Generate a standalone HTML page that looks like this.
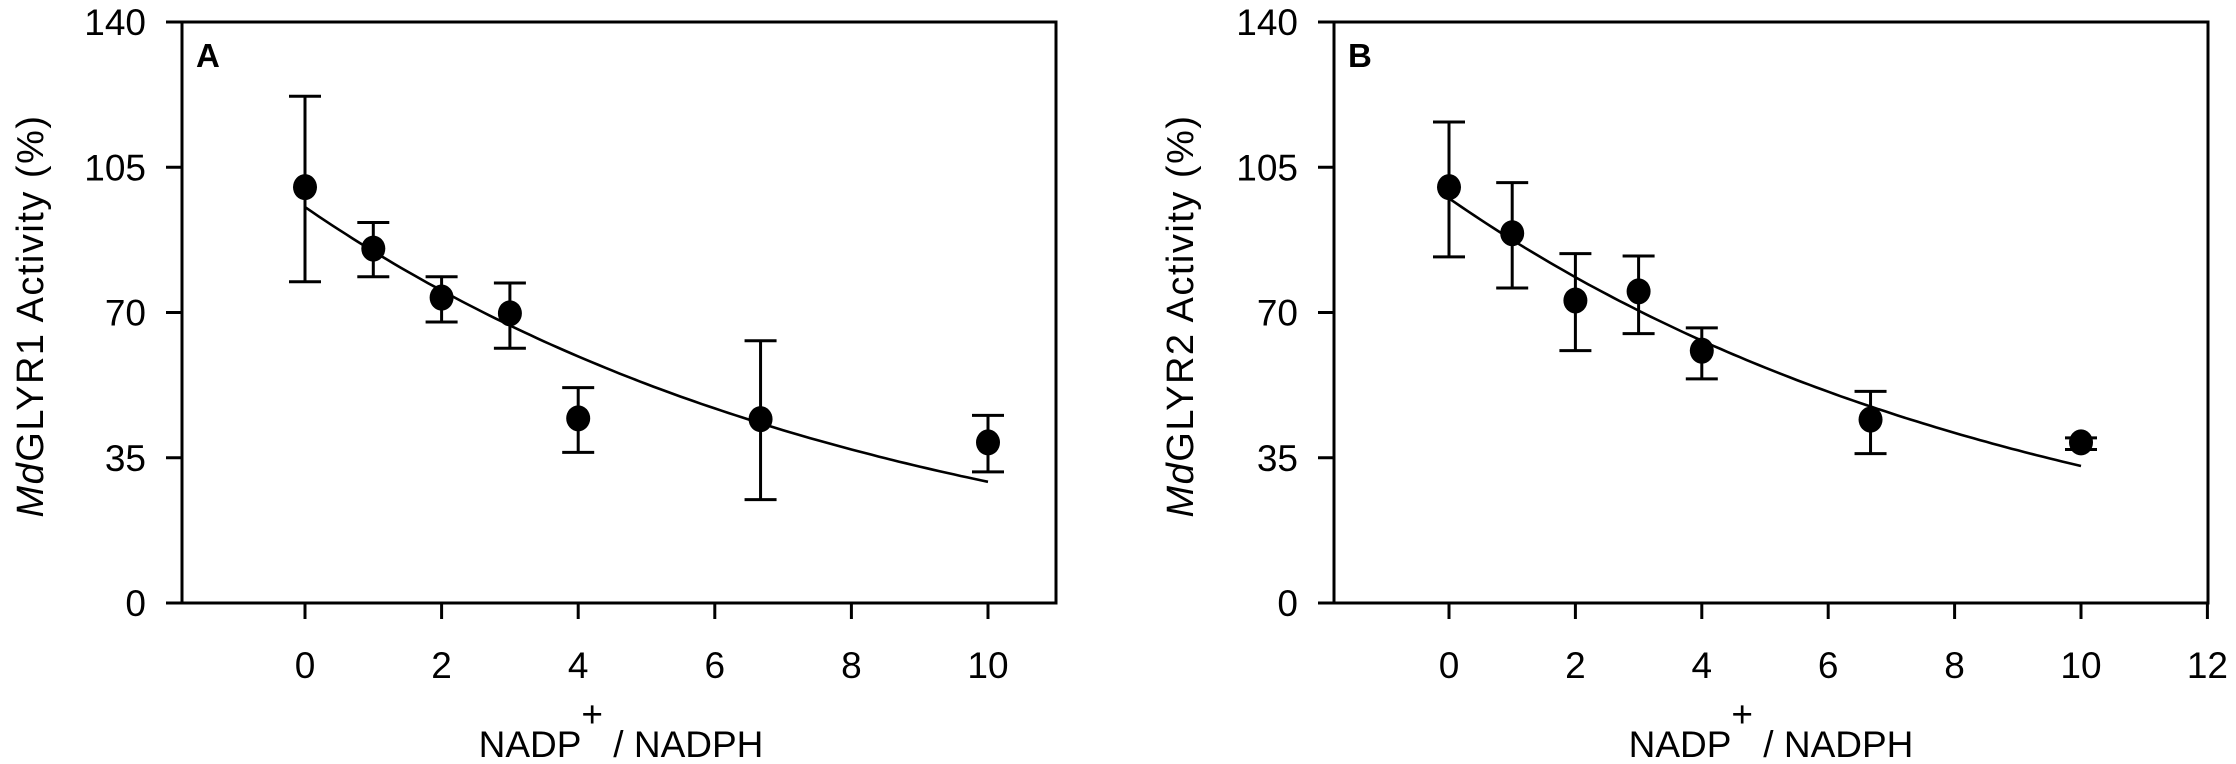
<!DOCTYPE html>
<html><head><meta charset="utf-8"><style>
html,body{margin:0;padding:0;background:#fff;}
svg{display:block;}
text{font-family:"Liberation Sans",Arial,sans-serif;fill:#000;}
</style></head>
<body>
<svg id="chart" width="2236" height="764" viewBox="0 0 2236 764"></svg>
<script>
const xCats = [0, 1, 2, 3, 4, 6.67, 10];
const meanA = [100.2, 85.4, 73.6, 69.8, 44.5, 44.3, 38.7];
const upperA = [122.1, 91.7, 78.6, 77.1, 51.9, 63.2, 45.2];
const lowerA = [77.4, 78.6, 67.7, 61.4, 36.3, 24.9, 31.6];
const meanB = [100.2, 89.1, 72.9, 75.1, 60.8, 44.2, 38.7];
const upperB = [115.9, 101.3, 84.2, 83.6, 66.3, 51.0, 39.8];
const lowerB = [83.4, 75.9, 60.8, 64.9, 54.0, 36.0, 37.0];
const fitA = [95.4, 0.1184];
const fitB = [97.5, 0.1083];
const yTicks = [0, 35, 70, 105, 140];
const xTicksA = [0, 2, 4, 6, 8, 10];
const xTicksB = [0, 2, 4, 6, 8, 10, 12];

const NS = "http://www.w3.org/2000/svg";
const svg = document.getElementById('chart');
function mk(tag, attrs, parent) {
  const e = document.createElementNS(NS, tag);
  for (const k in attrs) e.setAttribute(k, attrs[k]);
  (parent || svg).appendChild(e);
  return e;
}

function panel(cfg) {
  const g = mk('g', {});
  
  
  const xs = v => cfg.x0 + v * cfg.xu;
  const ys = v => cfg.yBottom - (v / 140) * (cfg.yBottom - cfg.yTop);
  const frame = mk('rect', {x: cfg.left, y: cfg.yTop, width: cfg.right - cfg.left, height: cfg.yBottom - cfg.yTop, fill: 'none', stroke: '#000', 'stroke-width': 3}, g);
  
  
  yTicks.forEach(t => {
    const y = ys(t);
    const l = mk('line', {x1: cfg.left - 16, x2: cfg.left, y1: y, y2: y, stroke: '#000', 'stroke-width': 3}, g);
    
    
    const tx = mk('text', {x: cfg.left - 36, y: y + 13, 'font-size': 37, 'text-anchor': 'end'}, g);
    tx.textContent = t;
    
    
  });
  cfg.xTicks.forEach(t => {
    const x = xs(t);
    const l = mk('line', {x1: x, x2: x, y1: cfg.yBottom, y2: cfg.yBottom + 16, stroke: '#000', 'stroke-width': 3}, g);
    
    
    const tx = mk('text', {x: x, y: 678, 'font-size': 37, 'text-anchor': 'middle'}, g);
    tx.textContent = t;
    
    
  });
  let d = '';
  for (let i = 0; i <= 100; i++) {
    const v = i / 10;
    d += (i ? 'L' : 'M') + xs(v).toFixed(1) + ',' + ys(cfg.fit[0] * Math.exp(-cfg.fit[1] * v)).toFixed(1);
  }
  const c = mk('path', {d: d, fill: 'none', stroke: '#000', 'stroke-width': 2.6}, g);
  
  
  xCats.forEach((xv, i) => {
    const x = xs(xv);
    const yt = ys(cfg.upper[i]), yb = ys(cfg.lower[i]);
    const eb = mk('path', {d: `M${x},${yt}L${x},${yb}M${x-16},${yt}L${x+16},${yt}M${x-16},${yb}L${x+16},${yb}`, stroke: '#000', 'stroke-width': 3, fill: 'none'}, g);
    
    
    const p = mk('ellipse', {cx: x, cy: ys(cfg.mean[i]), rx: 12, ry: 13, fill: '#000'}, g);
    
    
  });
  const L = mk('text', {x: cfg.left + 14, y: 67, 'font-size': 33, 'font-weight': 'bold'}, g);
  L.textContent = cfg.letter;
  
  
  const xt = mk('text', {x: cfg.xTitleX, y: 757, 'font-size': 37, 'text-anchor': 'middle'}, g);
  xt.innerHTML = 'NADP<tspan dy="-30" font-size="37">+</tspan><tspan dy="30"> / NADPH</tspan>';
  
  
  const yt = mk('text', {x: 0, y: 0, 'font-size': 38, 'letter-spacing': 1.5, 'text-anchor': 'middle', transform: `translate(${cfg.yTitleX},316) rotate(-90)`}, g);
  yt.innerHTML = '<tspan font-style="italic">Md</tspan>' + cfg.gene + ' Activity (%)';
  
  
}

panel({name: 'panel-a', letter: 'A', gene: 'GLYR1', left: 182, right: 1056, x0: 305, xu: 68.3, yTop: 22, yBottom: 603, xTicks: xTicksA, mean: meanA, upper: upperA, lower: lowerA, fit: fitA, xTitleX: 621, yTitleX: 43});
panel({name: 'panel-b', letter: 'B', gene: 'GLYR2', left: 1334, right: 2208, x0: 1449, xu: 63.2, yTop: 22, yBottom: 603, xTicks: xTicksB, mean: meanB, upper: upperB, lower: lowerB, fit: fitB, xTitleX: 1771, yTitleX: 1193});
</script>
</body></html>
